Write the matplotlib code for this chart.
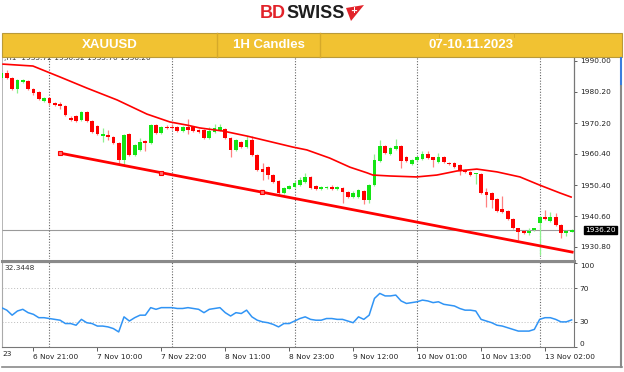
import numpy as np
import matplotlib.pyplot as plt
from matplotlib.patches import Rectangle, Polygon

W, H = 624, 372

# XAUUSD H1 candles, bar 0 = leftmost bar on the chart
opens = [1984.6, 1986.3, 1984.6, 1981.1, 1983.4, 1983.7, 1981.0, 1980.2, 1977.4, 1978.1,
         1976.7, 1976.3, 1975.7, 1971.8, 1972.5, 1971.2, 1973.9, 1971.0, 1969.3, 1966.2,
         1966.3, 1965.9, 1963.8, 1958.5, 1966.7, 1960.1, 1961.7, 1964.6, 1963.8, 1969.6,
         1967.2, 1969.1, 1969.0, 1969.1, 1967.8, 1969.0, 1969.1, 1968.0, 1968.0, 1965.4,
         1967.5, 1968.0, 1968.5, 1965.4, 1961.7, 1964.3, 1962.5, 1964.8, 1960.1, 1955.5,
         1956.3, 1953.7, 1951.9, 1947.9, 1949.4, 1949.9, 1950.5, 1951.6, 1953.2, 1950.2,
         1949.1, 1949.5, 1950.0, 1949.2, 1949.5, 1948.4, 1946.8, 1946.6, 1948.7, 1945.7,
         1950.5, 1958.3, 1962.9, 1960.4, 1961.9, 1962.9, 1959.6, 1957.2, 1958.5, 1958.8,
         1960.3, 1959.3, 1957.9, 1959.6, 1957.6, 1957.4, 1956.9, 1955.3, 1954.8, 1953.9,
         1954.0, 1948.4, 1947.9, 1946.0, 1942.8, 1942.3, 1939.6, 1936.7, 1936.0, 1935.1,
         1936.2, 1938.3, 1940.4, 1939.1, 1940.4, 1937.8, 1935.1, 1935.72]
highs = [1986.5, 1987.1, 1985.0, 1984.3, 1984.2, 1984.0, 1981.3, 1980.5, 1978.5, 1978.6,
         1977.0, 1976.9, 1976.0, 1972.6, 1972.9, 1974.2, 1974.2, 1971.3, 1969.6, 1968.7,
         1968.0, 1966.2, 1964.1, 1966.7, 1967.0, 1963.5, 1965.5, 1964.9, 1969.9, 1969.9,
         1969.4, 1969.7, 1969.8, 1969.4, 1969.2, 1971.4, 1969.4, 1968.3, 1968.3, 1969.1,
         1969.8, 1969.8, 1968.8, 1965.7, 1965.1, 1964.6, 1966.1, 1966.0, 1960.4, 1957.4,
         1956.6, 1954.0, 1952.2, 1949.8, 1950.5, 1951.9, 1953.2, 1954.5, 1953.5, 1950.5,
         1950.2, 1950.3, 1950.6, 1950.3, 1949.8, 1948.7, 1948.6, 1949.2, 1949.0, 1950.8,
         1960.5, 1964.8, 1963.2, 1962.5, 1965.3, 1963.2, 1959.9, 1958.8, 1959.6, 1961.4,
         1961.3, 1959.6, 1960.6, 1959.9, 1958.0, 1957.7, 1957.2, 1955.6, 1955.1, 1954.5,
         1954.3, 1949.5, 1948.4, 1946.3, 1947.0, 1942.6, 1939.9, 1937.0, 1936.3, 1936.8,
         1937.0, 1940.7, 1942.7, 1941.9, 1941.6, 1938.1, 1936.3, 1936.52]
lows = [1984.3, 1984.2, 1980.8, 1979.7, 1983.0, 1980.8, 1979.2, 1977.5, 1976.9, 1976.1,
        1975.7, 1974.8, 1972.5, 1970.9, 1970.7, 1970.9, 1970.7, 1967.1, 1966.4, 1964.3,
        1964.8, 1963.5, 1957.3, 1956.9, 1959.8, 1959.8, 1961.3, 1961.3, 1963.5, 1966.9,
        1966.9, 1968.2, 1968.2, 1967.5, 1967.5, 1966.8, 1967.5, 1967.2, 1965.1, 1965.1,
        1967.2, 1967.7, 1965.1, 1959.3, 1961.4, 1962.2, 1962.2, 1959.8, 1955.0, 1952.1,
        1952.6, 1951.3, 1947.6, 1947.6, 1949.1, 1949.6, 1950.2, 1951.3, 1949.2, 1948.8,
        1948.8, 1949.2, 1948.9, 1948.9, 1944.7, 1946.3, 1946.5, 1946.3, 1944.6, 1944.7,
        1950.2, 1958.0, 1960.3, 1960.1, 1961.6, 1956.1, 1958.0, 1956.9, 1958.2, 1958.5,
        1958.7, 1956.3, 1957.6, 1957.6, 1956.9, 1956.0, 1953.7, 1954.5, 1953.4, 1950.7,
        1947.8, 1943.6, 1943.1, 1942.0, 1941.7, 1939.3, 1936.4, 1933.0, 1934.8, 1934.5,
        1935.9, 1928.2, 1939.3, 1938.8, 1937.5, 1933.8, 1934.2, 1935.70]
closes = [1986.2, 1984.5, 1981.1, 1984.0, 1983.8, 1981.1, 1979.8, 1977.8, 1978.1, 1976.5,
          1976.0, 1975.7, 1972.8, 1971.2, 1971.0, 1973.9, 1971.0, 1967.5, 1966.8, 1966.9,
          1965.8, 1963.8, 1958.5, 1966.4, 1960.1, 1963.2, 1964.3, 1963.8, 1969.6, 1967.2,
          1969.1, 1968.6, 1968.6, 1967.8, 1968.9, 1967.9, 1967.8, 1967.5, 1965.4, 1967.6,
          1968.6, 1968.9, 1965.4, 1961.7, 1964.8, 1962.5, 1964.8, 1960.1, 1955.3, 1954.8,
          1953.7, 1951.6, 1947.9, 1949.5, 1950.2, 1951.3, 1952.2, 1953.2, 1949.5, 1949.1,
          1949.8, 1950.0, 1949.2, 1950.0, 1948.4, 1946.6, 1947.9, 1948.9, 1945.7, 1950.5,
          1958.5, 1962.9, 1960.6, 1962.2, 1962.9, 1958.3, 1958.3, 1958.5, 1959.3, 1960.4,
          1959.0, 1958.5, 1959.6, 1957.9, 1957.2, 1956.3, 1955.3, 1954.8, 1953.7, 1954.2,
          1948.1, 1947.3, 1945.7, 1942.3, 1942.0, 1939.6, 1936.7, 1935.6, 1935.1, 1936.0,
          1936.7, 1940.4, 1939.6, 1940.4, 1937.8, 1935.1, 1936.0, 1936.20]

# moving average (bar index, price)
ma_x = [0.3, 5.9, 9.1, 11.0, 16.0, 21.7, 27.3, 31.6, 34.8, 37.2, 41.6, 46.1, 54.7, 57.3,
        61.6, 65.4, 68.6, 69.7, 72.9, 77.9, 81.7, 85.5, 89.2, 93.0, 97.3, 101.0, 104.8, 106.9]
ma_y = [1989.0, 1988.4, 1986.2, 1984.9, 1981.4, 1977.6, 1973.1, 1970.6, 1969.6, 1968.7,
        1967.7, 1966.1, 1962.6, 1961.7, 1959.1, 1956.2, 1954.4, 1953.7, 1953.4, 1953.1,
        1953.7, 1955.0, 1955.6, 1954.7, 1953.1, 1950.5, 1948.0, 1946.7]

# trend line anchors (start, middle, end), drawn as a ray to the right
trend_x = [10.9, 29.9, 48.9]
trend_y = [1960.7, 1954.5, 1948.25]

# RSI per bar
rsi = [47, 44, 38, 43, 45, 41, 39, 35, 35, 34, 33, 32, 28, 28, 26, 33, 29, 28, 25, 25,
       24, 22, 18, 36, 31, 35, 38, 38, 47, 45, 47, 47, 47, 46, 46, 47, 46, 45, 41, 45,
       46, 47, 41, 37, 41, 40, 44, 36, 32, 30, 29, 27, 24, 28, 28, 31, 34, 36, 33, 32,
       32, 34, 34, 33, 33, 31, 29, 36, 33, 38, 58, 64, 61, 61, 62, 55, 52, 53, 54, 56,
       55, 53, 54, 51, 50, 49, 46, 44, 44, 43, 33, 31, 29, 26, 25, 23, 21, 19, 19, 19,
       21, 33, 35, 35, 33, 30, 30, 32.3448]

price_ticks = [1930.80, 1940.60, 1950.40, 1960.40, 1970.20, 1980.20, 1990.00]
last_price = 1936.20
grid_bars = [9, 32, 55, 78, 101]
time_bars = [6, 18, 30, 42, 54, 66, 78, 90, 102]
time_labels = ['6 Nov 21:00', '7 Nov 10:00', '7 Nov 22:00', '8 Nov 11:00', '8 Nov 23:00',
               '9 Nov 12:00', '10 Nov 01:00', '10 Nov 13:00', '13 Nov 02:00']
header_cells = ['XAUUSD', '1H Candles', '07-10.11.2023']

BULL = '#14e414'
BEAR = '#ff0000'
FS = 5.3
XMIN, XMAX = 0.1, 107.35


def px_axes(fig, left, top, right, bottom):
    return fig.add_axes([left / W, 1 - bottom / H, (right - left) / W, (bottom - top) / H])


fig = plt.figure(figsize=(W / 100, H / 100), dpi=100)
fig.patch.set_facecolor('white')

# ---- price panel
ax = px_axes(fig, 2, 57, 573.5, 259)
x = np.arange(len(closes))
o = np.array(opens)
c = np.array(closes)
up = c >= o
wick_col = np.where(up, '#8ef08e', '#ff8080')
ax.vlines(x, lows, highs, colors=wick_col, lw=0.9, zorder=2)
body_h = np.maximum(np.abs(c - o), 0.35)
ax.bar(x, body_h, bottom=np.minimum(o, c), width=0.7,
       color=np.where(up, BULL, BEAR), lw=0, zorder=3)

ax.plot(ma_x, ma_y, color=BEAR, lw=1.2, zorder=4)

slope = (trend_y[-1] - trend_y[0]) / (trend_x[-1] - trend_x[0])
ax.plot([trend_x[0], XMAX], [trend_y[0], trend_y[0] + slope * (XMAX - trend_x[0])],
        color=BEAR, lw=2.0, zorder=4, solid_capstyle='butt')
ax.plot(trend_x, trend_y, ls='none', marker='s', ms=3.4, mfc='#ff7070', mec=BEAR,
        mew=0.8, zorder=5)

ax.axhline(last_price, color='#9a9a9a', lw=0.8, zorder=1)
for g in grid_bars:
    ax.axvline(g, color='#666666', lw=0.8, ls=(0, (1, 1.5)), zorder=1)

ax.set_xlim(XMIN, XMAX)
ax.set_ylim(1926.98, 1991.27)
ax.yaxis.tick_right()
ax.set_yticks(price_ticks)
ax.set_yticklabels([f'{p:.2f}' for p in price_ticks])
ax.tick_params(axis='y', length=2.5, width=0.6, colors='#444444', labelsize=FS,
               pad=2, labelcolor='#222222')
ax.set_xticks([])
for s in ['top', 'bottom']:
    ax.spines[s].set_visible(False)
ax.spines['left'].set_color('#aaaaaa')
ax.spines['left'].set_linewidth(0.6)
ax.spines['right'].set_color('#777777')
ax.spines['right'].set_linewidth(0.9)

ax.text(1.02, last_price, f'{last_price:.2f}', transform=ax.get_yaxis_transform(),
        color='white', fontsize=FS, va='center', ha='left',
        bbox=dict(boxstyle='square,pad=0.15', fc='black', ec='black'), zorder=6, clip_on=False)
ax.text(0.004, 1.01, ',H1  1935.72 1936.52 1935.70 1936.20', transform=ax.transAxes,
        fontsize=FS, color='#333333', va='top', ha='left')

# ---- RSI panel
rx = px_axes(fig, 2, 262, 573.5, 347)
rx.plot(x, rsi, color='#3094f5', lw=1.1, zorder=3)
rx.set_xlim(XMIN, XMAX)
rx.set_ylim(0, 101.5)
for lv in [30, 70]:
    rx.axhline(lv, color='#bbbbbb', lw=0.7, ls=(0, (1, 2)), zorder=1)
for g in grid_bars:
    rx.axvline(g, color='#666666', lw=0.8, ls=(0, (1, 1.5)), zorder=1)
rx.yaxis.tick_right()
rx.set_yticks([0, 30, 70, 100])
rx.set_yticklabels(['0', '30', '70', '100'])
rx.tick_params(axis='y', length=2.5, width=0.6, colors='#444444', labelsize=FS, pad=2,
               labelcolor='#222222')
rl = rx.get_yticklabels()
rl[0].set_va('bottom')
rl[-1].set_va('top')
rx.set_xticks(time_bars)
rx.set_xticklabels(time_labels, ha='left')
rx.tick_params(axis='x', length=3, width=0.6, colors='#444444', labelsize=FS, pad=2,
               labelcolor='#222222')
for s in rx.spines.values():
    s.set_color('#777777')
    s.set_linewidth(0.8)
rx.spines['left'].set_color('#aaaaaa')
rx.text(0.004, 0.96, f'{rsi[-1]:.4f}', transform=rx.transAxes, fontsize=FS,
        color='#333333', va='top', ha='left')

# ---- overlay: frames, banner, logo
ov = fig.add_axes([0, 0, 1, 1], zorder=10)
ov.set_xlim(0, W)
ov.set_ylim(H, 0)
ov.axis('off')
ov.patch.set_alpha(0)

ov.plot([2, 573.5], [260.5, 260.5], color='#8a8a8a', lw=2.2)
ov.plot([2, 622], [367, 367], color='#8a8a8a', lw=1.2)
ov.plot([620.5, 620.5], [86, 367], color='#8a8a8a', lw=1.5)
ov.plot([620.5, 620.5], [58, 84], color='#3b7ddd', lw=1.5)
ov.text(2.5, 354, '23', fontsize=FS, color='#222222', va='center', ha='left')

ov.add_patch(Rectangle((2, 33), 620, 24, fc='#f1c232', ec='#b99a3a', lw=0.8))
for bx in [217, 320]:
    ov.plot([bx, bx], [33, 57], color='#d6a92a', lw=1.0)
for bx in [439, 514]:
    ov.plot([bx, bx], [33, 37], color='#d6a92a', lw=0.6)
for cx, txt in zip([109.5, 268.5, 471], header_cells):
    ov.text(cx, 45.5, txt, fontsize=9.5, fontweight='bold', color='white',
            family='Liberation Sans', ha='center', va='center')

ov.text(286, 14, 'BD', fontsize=13, fontweight='bold', color='#e2232a',
        family='Liberation Sans', ha='right', va='center')
ov.text(286, 14, 'SWISS', fontsize=13, fontweight='bold', color='#1e1e1e',
        family='Liberation Sans', ha='left', va='center')
ov.add_patch(Polygon([(346, 8), (364, 5), (351, 21)], closed=True, fc='#e2232a', ec='none'))
ov.text(353.5, 10.5, '+', fontsize=6, fontweight='bold', color='white', ha='center',
        va='center')

fig.savefig('out.png', dpi=100)
